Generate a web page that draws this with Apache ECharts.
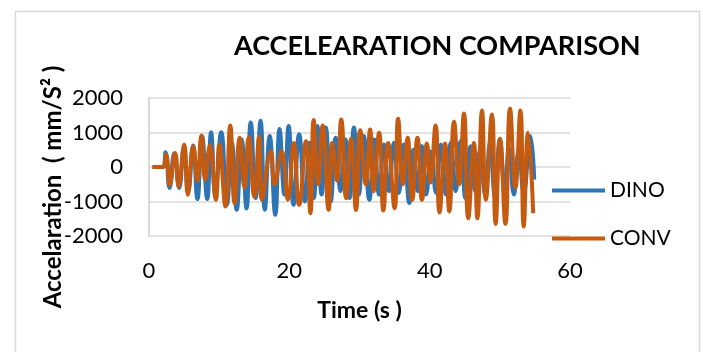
<!DOCTYPE html>
<html>
<head>
<meta charset="utf-8">
<script src="https://cdn.jsdelivr.net/npm/echarts@6/dist/echarts.min.js"></script>
<style>
  html, body { margin: 0; padding: 0; background: #fff; }
  #chart { width: 703px; height: 352px; }
</style>
</head>
<body>
<div id="chart"></div>
<script>
// time (s) and acceleration (mm/s2) at the turning points
var dinoTime = [0.5, 1.0, 1.5, 2.0,
  2.36, 2.93, 3.6, 4.3, 4.95, 5.6, 6.28, 6.9, 7.55, 8.3, 8.85, 9.45, 10.3, 11.1, 11.8, 12.5,
  13.2, 13.9, 14.5, 15.2, 15.9, 16.5, 17.2, 18.0, 18.6, 19.3, 19.9, 20.6, 21.4, 22.2, 22.9, 23.5,
  24.0, 24.6, 25.2, 25.9, 26.6, 27.3, 28.0, 28.6, 29.2, 29.9, 30.6, 31.4, 32.1, 32.8, 33.5, 34.2,
  34.9, 35.6, 36.3, 37.1, 37.7, 38.3, 38.9, 39.5, 40.2, 40.9, 41.6, 42.3, 43.0, 43.7, 44.4, 45.1,
  45.8, 46.5, 47.2, 47.9, 48.6, 49.3, 50.0, 50.7, 51.3, 52.0, 52.7, 53.4, 54.35, 54.9];
var dinoAcc = [0, 0, 0, 0,
  427, -611, 400, -611, 560, -700, 621, -931, 900, -931, 1009, -800, 1009, -1095, 700, -1240,
  800, -1200, 1290, -900, 1340, -1240, 900, -1387, 1100, -800, 1192, -1095, 950, -1000, 700, -900,
  1192, -800, 1143, -1000, 850, -700, 800, -900, 1144, -800, 900, -950, 800, -800, 650, -700,
  700, -750, 650, -1045, 500, -700, 610, -800, 450, -750, 650, -800, 700, -700, 750, -900,
  600, -700, 500, -800, 700, -850, 800, -700, 560, -800, 500, -750, 900, -365];

var convTime = [0.5, 1.0, 1.5, 2.0,
  2.44, 2.96, 3.73, 4.24, 5.02, 5.53, 6.30, 6.9, 7.46, 8.0, 8.68, 9.52, 10.03, 10.9, 11.58, 12.2,
  12.93, 13.6, 14.21, 15.0, 15.69, 16.1, 17.36, 17.9, 18.91, 19.8, 20.64, 21.4, 22.38, 23.0, 23.47, 24.1,
  24.76, 25.6, 26.11, 26.8, 27.40, 28.1, 28.81, 29.5, 30.10, 30.9, 31.51, 32.0, 32.80, 33.4, 34.08, 35.0,
  35.50, 36.2, 36.85, 37.5, 38.26, 38.9, 39.61, 40.1, 40.84, 41.4, 42.19, 42.8, 43.47, 44.2, 44.89, 45.5,
  46.30, 46.8, 47.46, 48.0, 48.87, 49.4, 50.03, 50.8, 51.45, 52.2, 52.93, 53.4, 54.02, 54.75];
var convAcc = [0, 0, 0, 0,
  359, -515, 408, -563, 650, -806, 602, -400, 913, -370, 631, -951, 650, -1145, 1204, -1049,
  850, -600, 864, -855, 874, -951, 456, -500, 456, -951, 699, -1097, 748, -1340, 1359, -500,
  1204, -1243, 699, -400, 1379, -903, 816, -1243, 1068, -500, 1088, -700, 990, -1262, 699, -1194,
  1398, -500, 845, -951, 845, -951, 680, -450, 1204, -1320, 680, -1291, 1311, -500, 1554, -1486,
  699, -1486, 1641, -951, 1524, -1650, 816, -1650, 1699, -600, 1641, -1728, 990, -1340];

var seriesNames = ['DINO', 'CONV'];
var xTicks = [0, 60, 20];        // min, max, step
var yTicks = [-2000, 2000, 1000];

function pairs(t, v) {
  var out = [];
  for (var i = 0; i < t.length; i++) out.push([t[i], v[i]]);
  return out;
}

var chart = echarts.init(document.getElementById('chart'), null, { renderer: 'canvas' });
var font = 'Lato, "Open Sans", sans-serif';

var option = {
  backgroundColor: '#fff',
  animation: false,
  graphic: [{
    type: 'rect', left: 13, top: 9,
    shape: { width: 684, height: 360 },
    style: { fill: 'none', stroke: '#d9d9d9', lineWidth: 1.5 }
  }],
  title: {
    text: 'ACCELEARATION COMPARISON',
    left: 229, top: 28,
    textStyle: { fontFamily: font, fontWeight: 'bold', fontSize: 27, color: '#000' }
  },
  legend: {
    orient: 'vertical',
    left: 547, top: 175,
    itemWidth: 53, itemHeight: 4, itemGap: 27,
    icon: 'rect',
    textStyle: { fontFamily: font, fontSize: 21, color: '#000' },
    data: seriesNames
  },
  grid: { left: 149, top: 98, width: 421, height: 138, containLabel: false },
  xAxis: {
    type: 'value',
    min: xTicks[0], max: xTicks[1], interval: xTicks[2],
    name: 'Time (s )', nameLocation: 'middle', nameGap: 63,
    nameTextStyle: { fontFamily: font, fontWeight: 'bold', fontSize: 23, color: '#000' },
    axisLine: { show: false }, axisTick: { show: false }, splitLine: { show: false },
    axisLabel: { fontFamily: font, fontSize: 22, color: '#000', margin: 24 }
  },
  yAxis: {
    type: 'value',
    min: yTicks[0], max: yTicks[1], interval: yTicks[2],
    name: 'Accelaration  ( mm/S² )', nameLocation: 'middle', nameGap: 84, nameRotate: 90,
    nameMoveOverlap: false,
    nameTextStyle: {
      fontFamily: font, fontWeight: 'bold', fontSize: 24, color: '#000',
      padding: [0, 40, 0, 0]
    },
    axisLine: { show: true, lineStyle: { color: '#d9d9d9', width: 2 } },
    axisTick: { show: false },
    splitLine: { lineStyle: { color: '#d9d9d9', width: 1.5 } },
    axisLabel: {
      fontFamily: font, fontSize: 22, color: '#000', margin: 26,
      formatter: function (v) { return String(v); }
    }
  },
  series: [
    {
      name: seriesNames[0], type: 'line', data: pairs(dinoTime, dinoAcc),
      showSymbol: false, smooth: true,
      lineStyle: { color: '#2E75B6', width: 4 }, itemStyle: { color: '#2E75B6' }
    },
    {
      name: seriesNames[1], type: 'line', data: pairs(convTime, convAcc),
      showSymbol: false, smooth: true,
      lineStyle: { color: '#C55A11', width: 4 }, itemStyle: { color: '#C55A11' }
    }
  ]
};
chart.setOption(option);
</script>
</body>
</html>
